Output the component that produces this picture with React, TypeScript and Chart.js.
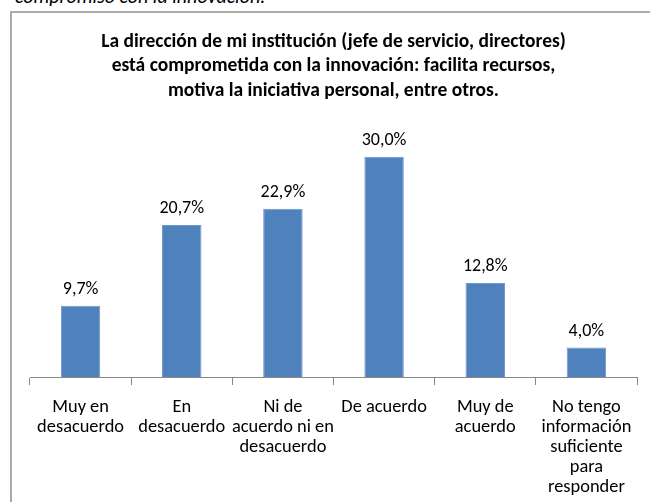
import React, { useEffect, useRef } from "react";
import { Chart, registerables } from "chart.js";

Chart.register(...registerables);

const categories: string[][] = [
  ["Muy en", "desacuerdo"],
  ["En", "desacuerdo"],
  ["Ni de", "acuerdo ni en", "desacuerdo"],
  ["De acuerdo"],
  ["Muy de", "acuerdo"],
  ["No tengo", "información", "suficiente", "para", "responder"],
];
const values: number[] = [9.7, 20.7, 22.9, 30.0, 12.8, 4.0];
const titleLines: string[] = [
  "La dirección de mi institución (jefe de servicio, directores)",
  "está comprometida con la innovación: facilita recursos,",
  "motiva la iniciativa personal, entre otros.",
];
const headingText = "compromiso con la innovación.";

const FONT = "Carlito, Calibri, Lato, 'Liberation Sans', sans-serif";

const labelPlugin = {
  id: "valueLabels",
  afterDatasetsDraw(chart: any) {
    const ctx = chart.ctx;
    const meta = chart.getDatasetMeta(0);
    ctx.save();
    ctx.font = `18px ${FONT}`;
    ctx.fillStyle = "#000";
    ctx.textAlign = "center";
    ctx.textBaseline = "middle";
    meta.data.forEach((bar: any, i: number) => {
      const txt = values[i].toFixed(1).replace(".", ",") + "%";
      ctx.fillText(txt, bar.x, bar.y - 16);
    });
    ctx.restore();
  },
};

export default function App() {
  const ref = useRef<HTMLCanvasElement>(null);
  useEffect(() => {
    if (!ref.current) return;
    const chart = new Chart(ref.current, {
      type: "bar",
      data: {
        labels: categories,
        datasets: [
          {
            data: values,
            backgroundColor: "#4F81BD",
            borderColor: "#6E97CB",
            borderWidth: 1,
            categoryPercentage: 1,
            barPercentage: 0.39,
          },
        ],
      },
      options: {
        animation: false,
        responsive: false,
        maintainAspectRatio: false,
        layout: { padding: { left: 30, right: 13, top: 30, bottom: 10 } },
        plugins: {
          legend: { display: false },
          tooltip: { enabled: false },
          title: {
            display: true,
            text: titleLines,
            color: "#000",
            font: { family: FONT, size: 19.5, weight: "bold", lineHeight: 24.3 / 19.5 },
            padding: { top: 0, bottom: 17 },
          },
        },
        scales: {
          y: { display: false, min: 0, max: 35 },
          x: {
            offset: true,
            grid: {
              offset: true,
              drawOnChartArea: false,
              drawTicks: true,
              tickLength: 8,
              color: "#888888",
            },
            border: { display: true, color: "#888888", width: 1 },
            ticks: {
              color: "#000",
              font: { family: FONT, size: 18.4, lineHeight: 20.2 / 18.4 },
              padding: 12,
              maxRotation: 0,
              autoSkip: false,
            },
          },
        },
      },
      plugins: [labelPlugin],
    });
    return () => chart.destroy();
  }, []);

  return (
    <div
      style={{
        position: "fixed",
        left: 0,
        top: 0,
        width: 650,
        height: 502,
        overflow: "hidden",
        background: "#fff",
      }}
    >
      <div
        style={{
          position: "absolute",
          left: 15,
          top: -19,
          fontFamily: FONT,
          fontStyle: "italic",
          fontSize: 20,
          lineHeight: "30px",
          color: "#000",
          whiteSpace: "nowrap",
        }}
      >
        {headingText}
      </div>
      <div
        style={{
          position: "absolute",
          left: 10,
          top: 11,
          width: 660,
          height: 540,
          border: "2px solid #ababab",
          boxSizing: "border-box",
        }}
      />
      <canvas
        ref={ref}
        width={650}
        height={520}
        style={{ position: "absolute", left: 0, top: 0, width: 650, height: 520 }}
      />
    </div>
  );
}
